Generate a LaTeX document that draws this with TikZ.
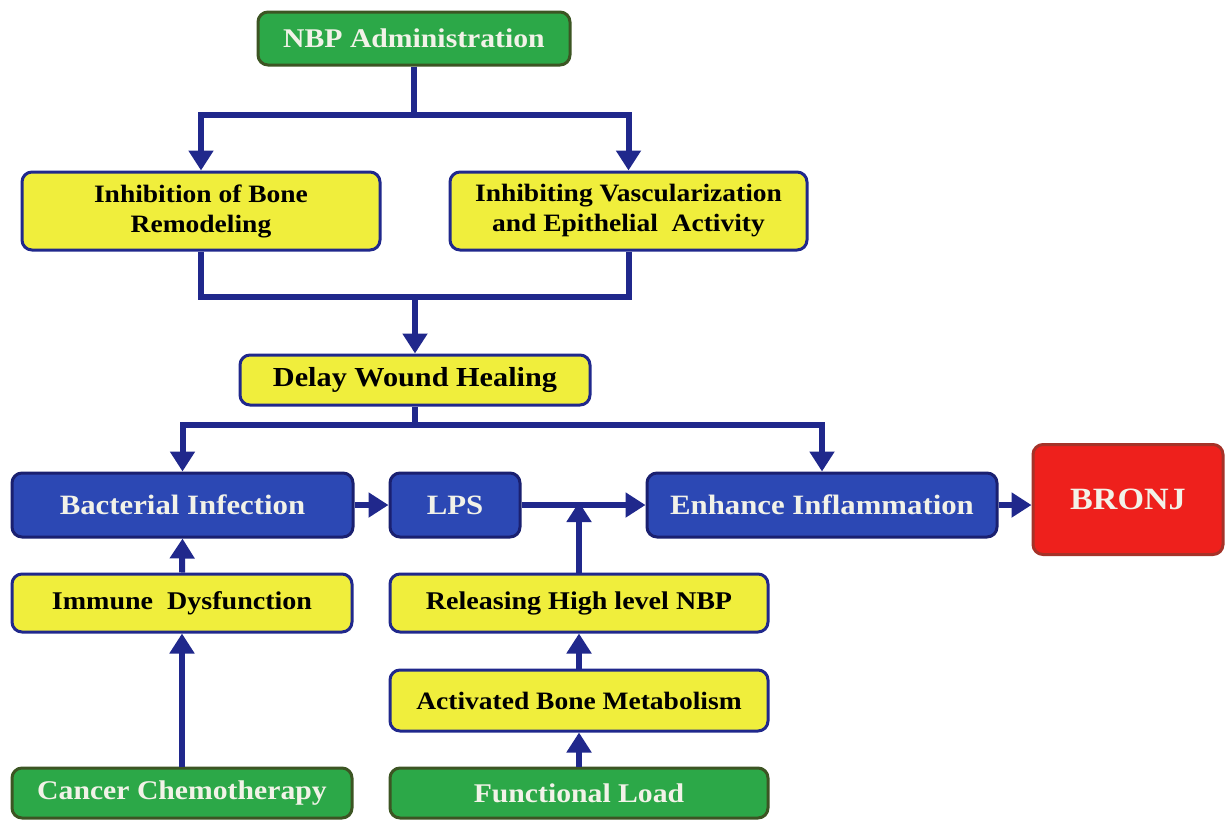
\documentclass[tikz,border=0pt]{standalone}
\usepackage{fontspec}
\setmainfont[FakeStretch=1.1]{Liberation Serif}
\usetikzlibrary{arrows.meta}
\definecolor{navy}{RGB}{32,40,140}
\definecolor{gfill}{RGB}{44,168,72}
\definecolor{gdraw}{RGB}{60,85,35}
\definecolor{yfill}{RGB}{240,238,60}
\definecolor{bfill}{RGB}{44,72,180}
\definecolor{rfill}{RGB}{238,32,28}
\definecolor{rdraw}{RGB}{165,50,40}
\definecolor{wtext}{RGB}{242,242,232}
\tikzset{
  box/.style={rounded corners=10pt, line width=3pt, align=center, inner sep=2pt, font=\bfseries},
  greenbox/.style={box, fill=gfill, draw=gdraw, text=wtext},
  yellowbox/.style={box, fill=yfill, draw=navy, text=black},
  bluebox/.style={box, fill=bfill, draw=navy!80!black, text=wtext},
  redbox/.style={box, fill=rfill, draw=rdraw, text=wtext},
  conn/.style={draw=navy, line width=6pt},
  arr/.style={conn, -{Triangle[length=20pt,width=24pt]}},
}
\begin{document}
\begin{tikzpicture}[x=1pt,y=-1pt]
\useasboundingbox[fill=white] (0,0) rectangle (1225,820);
\node[greenbox, minimum width=312pt, minimum height=53pt, font=\bfseries\fontsize{27}{28}\selectfont] (nbp) at (414,38.5) {NBP Administration};
\node[yellowbox, minimum width=358pt, minimum height=78pt, font=\bfseries\fontsize{25}{30}\selectfont] (inhb) at (201,211) {Inhibition of Bone\\Remodeling};
\node[yellowbox, minimum width=357pt, minimum height=78pt, font=\bfseries\fontsize{25}{30}\selectfont] (inhv) at (628.5,211) {Inhibiting Vascularization\\and Epithelial~ Activity};
\node[yellowbox, minimum width=350pt, minimum height=50pt, font=\bfseries\fontsize{27.5}{30}\selectfont] (delay) at (415,380) {Delay Wound Healing};
\node[bluebox, minimum width=341pt, minimum height=64pt, font=\bfseries\fontsize{28}{30}\selectfont] (bact) at (182.5,505) {Bacterial Infection};
\node[bluebox, minimum width=130pt, minimum height=64pt, font=\bfseries\fontsize{28}{30}\selectfont] (lps) at (455,505) {LPS};
\node[bluebox, minimum width=350pt, minimum height=64pt, font=\bfseries\fontsize{28}{30}\selectfont] (enh) at (822,505) {Enhance Inflammation};
\node[redbox, minimum width=190pt, minimum height=110pt, font=\bfseries\fontsize{31}{34}\selectfont] (bronj) at (1128,499.5) {BRONJ};
\node[yellowbox, minimum width=340pt, minimum height=58pt, font=\bfseries\fontsize{25.5}{28}\selectfont] (imm) at (182,603) {Immune~ Dysfunction};
\node[yellowbox, minimum width=378pt, minimum height=58pt, font=\bfseries\fontsize{25.5}{28}\selectfont] (rel) at (579,603) {Releasing High level NBP};
\node[yellowbox, minimum width=378pt, minimum height=61pt, font=\bfseries\fontsize{25}{28}\selectfont] (act) at (579,700.5) {Activated Bone Metabolism};
\node[greenbox, minimum width=340pt, minimum height=50pt, font=\bfseries\fontsize{27}{28}\selectfont] (chemo) at (182,793) {Cancer Chemotherapy};
\node[greenbox, minimum width=378pt, minimum height=50pt, font=\bfseries\fontsize{27}{28}\selectfont] (func) at (579,793) {Functional Load};

% connectors
\coordinate (j1) at (nbp.south |- 0,115);
\draw[conn] (nbp.south) -- (j1);
\draw[arr] (j1) -| (inhb.north);
\draw[arr] (j1) -| (inhv.north);

\coordinate (j2) at (delay.north |- 0,297);
\draw[conn] (inhb.south) |- (j2);
\draw[conn] (inhv.south) |- (j2);
\draw[arr] (j2) -- (delay.north);

\coordinate (j3) at (delay.south |- 0,425);
\draw[conn] (delay.south) -- (j3);
\draw[arr] (j3) -| (bact.north);
\draw[arr] (j3) -| (enh.north);

\draw[arr] (bact.east) -- (lps.west);
\draw[arr] (lps.east) -- (enh.west);
\coordinate (j4) at (rel.north |- lps.east);
\draw[arr] (rel.north) -- ([yshift=3pt]j4);
\draw[arr] (enh.east) -- (enh.east -| bronj.west);

\draw[arr] (imm.north) -- (bact.south);
\draw[arr] (chemo.north) -- (imm.south);
\draw[arr] (act.north) -- (rel.south);
\draw[arr] (func.north) -- (act.south);
\end{tikzpicture}
\end{document}
